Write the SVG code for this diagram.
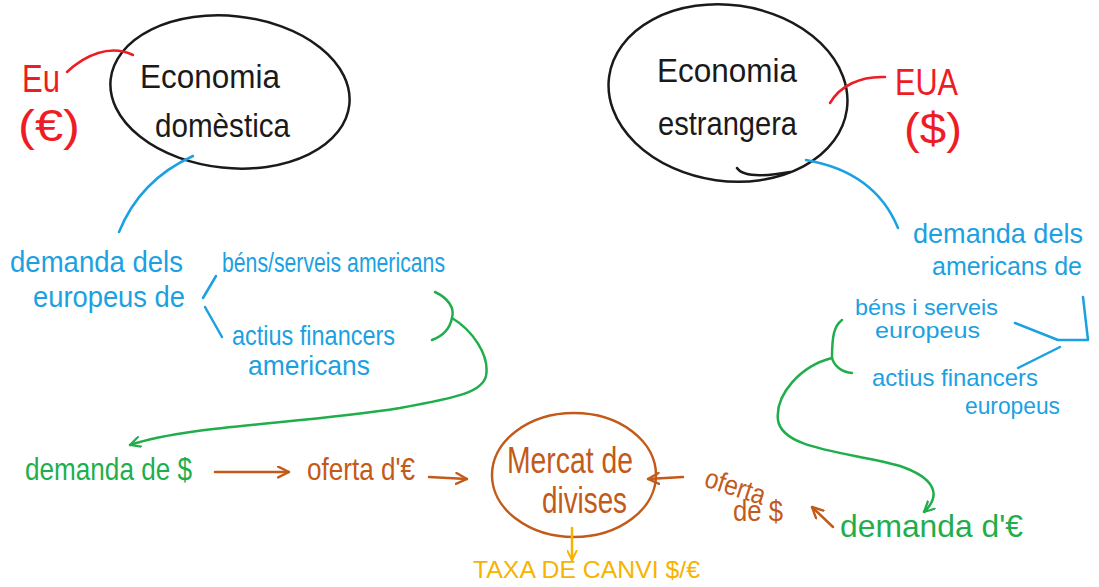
<svg xmlns="http://www.w3.org/2000/svg" width="1099" height="587" viewBox="0 0 1099 587">
<style>
text{font-family:"Liberation Sans",Arial,sans-serif}
.blk{fill:#1a1a1a}
.red{fill:#ee1c25}
.blue{fill:#1ba1e2}
.green{fill:#1fae4b}
.orange{fill:#c25a1a}
.yellow{fill:#f6b300}
.sk{fill:none;stroke-width:2.5;stroke-linecap:round;stroke-linejoin:round}
.sb{stroke:#1a1a1a}
.sr{stroke:#ee1c25}
.su{stroke:#1ba1e2}
.sg{stroke:#1fae4b}
.so{stroke:#c25a1a}
.sy{stroke:#f6b300}
</style>
<defs>
<marker id="ag" viewBox="0 0 12 12" refX="11" refY="6" markerWidth="12" markerHeight="12" orient="auto" markerUnits="userSpaceOnUse">
<path d="M1,1 L11,6 L1,11" fill="none" stroke="#1fae4b" stroke-width="2.2" stroke-linecap="round" stroke-linejoin="round"/>
</marker>
<marker id="ao" viewBox="0 0 12 12" refX="11" refY="6" markerWidth="13" markerHeight="13" orient="auto" markerUnits="userSpaceOnUse">
<path d="M1,1 L11,6 L1,11" fill="none" stroke="#c25a1a" stroke-width="2.2" stroke-linecap="round" stroke-linejoin="round"/>
</marker>
<marker id="ay" viewBox="0 0 12 12" refX="11" refY="6" markerWidth="11" markerHeight="11" orient="auto" markerUnits="userSpaceOnUse">
<path d="M1,1 L11,6 L1,11" fill="none" stroke="#f6b300" stroke-width="2.2" stroke-linecap="round" stroke-linejoin="round"/>
</marker>
</defs>
<rect width="1099" height="587" fill="#ffffff"/>

<g id="economia-domestica">
<ellipse cx="230" cy="92" rx="120" ry="76" transform="rotate(6 230 92)" class="sk sb" stroke-width="2.2"/>
<text x="140" y="88" font-size="34" class="blk" textLength="140" lengthAdjust="spacingAndGlyphs">Economia</text>
<text x="155" y="137" font-size="34" class="blk" textLength="135" lengthAdjust="spacingAndGlyphs">domèstica</text>
</g>

<g id="eu">
<text x="22" y="92" font-size="38" class="red" textLength="38" lengthAdjust="spacingAndGlyphs">Eu</text>
<text x="18" y="141" font-size="44" class="red" textLength="62" lengthAdjust="spacingAndGlyphs">(€)</text>
</g>

<g id="economia-estrangera">
<ellipse cx="728" cy="93" rx="120" ry="88" transform="rotate(8 728 93)" class="sk sb" stroke-width="2.2"/>
<text x="657" y="82" font-size="34" class="blk" textLength="140" lengthAdjust="spacingAndGlyphs">Economia</text>
<text x="658" y="135" font-size="34" class="blk" textLength="139" lengthAdjust="spacingAndGlyphs">estrangera</text>
</g>

<g id="eua">
<text x="895" y="95" font-size="37" class="red" textLength="63" lengthAdjust="spacingAndGlyphs">EUA</text>
<text x="904" y="144" font-size="44" class="red" textLength="58" lengthAdjust="spacingAndGlyphs">($)</text>
</g>

<g id="demanda-europeus">
<text x="10" y="272" font-size="30" class="blue" textLength="173" lengthAdjust="spacingAndGlyphs">demanda dels</text>
<text x="33" y="307" font-size="30" class="blue" textLength="152" lengthAdjust="spacingAndGlyphs">europeus de</text>
</g>

<g id="bens-americans">
<text x="222" y="272" font-size="28" class="blue" textLength="223" lengthAdjust="spacingAndGlyphs">béns/serveis americans</text>
</g>

<g id="actius-americans">
<text x="232" y="345" font-size="28" class="blue" textLength="163" lengthAdjust="spacingAndGlyphs">actius financers</text>
<text x="248" y="375" font-size="28" class="blue" textLength="122" lengthAdjust="spacingAndGlyphs">americans</text>
</g>

<g id="demanda-americans">
<text x="913" y="243" font-size="28" class="blue" textLength="170" lengthAdjust="spacingAndGlyphs">demanda dels</text>
<text x="932" y="275" font-size="26" class="blue" textLength="150" lengthAdjust="spacingAndGlyphs">americans de</text>
</g>

<g id="bens-europeus">
<text x="855" y="315" font-size="22" class="blue" textLength="143" lengthAdjust="spacingAndGlyphs">béns i serveis</text>
<text x="875" y="338" font-size="22" class="blue" textLength="105" lengthAdjust="spacingAndGlyphs">europeus</text>
</g>

<g id="actius-europeus">
<text x="872" y="386" font-size="24" class="blue" textLength="166" lengthAdjust="spacingAndGlyphs">actius financers</text>
<text x="965" y="414" font-size="24" class="blue" textLength="95" lengthAdjust="spacingAndGlyphs">europeus</text>
</g>

<g id="demanda-dolar">
<text x="25" y="480" font-size="32" class="green" textLength="167" lengthAdjust="spacingAndGlyphs">demanda de $</text>
</g>

<g id="oferta-euro">
<text x="307" y="480" font-size="32" class="orange" textLength="108" lengthAdjust="spacingAndGlyphs">oferta d'€</text>
</g>

<g id="mercat-divises">
<ellipse cx="574" cy="475" rx="82" ry="62" class="sk so" stroke-width="2.2"/>
<text x="507" y="473" font-size="36" class="orange" textLength="126" lengthAdjust="spacingAndGlyphs">Mercat de</text>
<text x="542" y="513" font-size="36" class="orange" textLength="85" lengthAdjust="spacingAndGlyphs">divises</text>
</g>

<g id="oferta-dolar">
<text x="703" y="486" font-size="28" class="orange" textLength="62" lengthAdjust="spacingAndGlyphs" transform="rotate(18 703 486)">oferta</text>
<text x="733" y="521" font-size="30" class="orange" textLength="50" lengthAdjust="spacingAndGlyphs">de $</text>
</g>

<g id="demanda-euro">
<text x="840" y="537" font-size="32" class="green" textLength="183" lengthAdjust="spacingAndGlyphs">demanda d'€</text>
</g>

<g id="taxa-canvi">
<text x="473" y="578" font-size="24" class="yellow" textLength="227" lengthAdjust="spacingAndGlyphs">TAXA DE CANVI $/€</text>
</g>

<g id="connectors">
<path d="M67,72 C85,55 110,44 133,55" class="sk sr"/>
<path d="M830,103 C840,86 860,76 885,77" class="sk sr"/>
<path d="M737,168 Q745,180 790,172" class="sk sb" stroke-width="2"/>
<path d="M193,156 Q140,180 119,232" class="sk su"/>
<path d="M806,160 Q875,172 898,228" class="sk su"/>
<path d="M216,276 L203,298 M205,307 L222,337" class="sk su"/>
<path d="M1015,323 L1058,340 L1088,340 L1083,297 M1060,347 L1018,368" class="sk su"/>
<path d="M435,292 C448,298 455,308 452,318 C450,328 443,336 432,340" class="sk sg"/>
<path d="M452,318 C472,330 490,355 486,376 C482,392 460,397 400,408 C300,424 190,425 130,445" class="sk sg" marker-end="url(#ag)"/>
<path d="M842,320 C834,326 832,336 832,358 C834,366 842,372 852,373" class="sk sg"/>
<path d="M832,358 C800,366 775,395 778,420 C782,450 850,452 900,466 C935,478 942,495 924,512" class="sk sg" marker-end="url(#ag)"/>
<path d="M215,472 L289,472" class="sk so" marker-end="url(#ao)"/>
<path d="M429,477 L467,479" class="sk so" marker-end="url(#ao)"/>
<path d="M683,477 L648,479" class="sk so" marker-end="url(#ao)"/>
<path d="M833,527 L812,507" class="sk so" marker-end="url(#ao)"/>
<path d="M572,528 L572,560" class="sk sy" marker-end="url(#ay)"/>
</g>
</svg>
